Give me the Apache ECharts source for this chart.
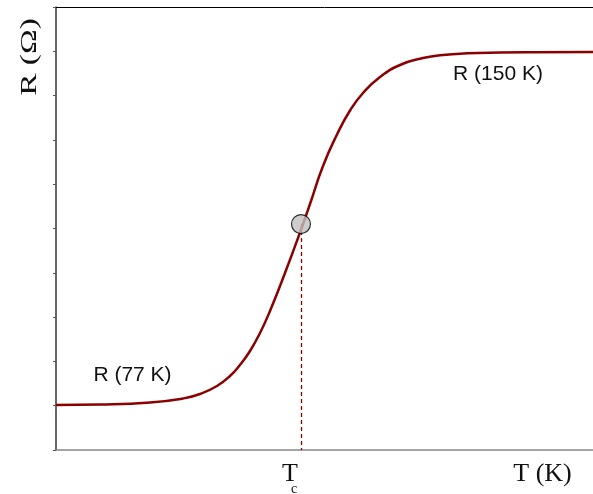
<!DOCTYPE html>
<html>
<head>
<meta charset="utf-8">
<script src="https://cdn.jsdelivr.net/npm/echarts@6/dist/echarts.min.js"></script>
<style>html,body{margin:0;padding:0;background:#fff}#c{width:593px;height:494px}</style>
</head>
<body>
<div id="c"></div>
<script>
// Temperature (arbitrary scaled units, 0..100 across the axis)
var temperature = [0, 8.19, 17.5, 23.65, 26.82, 29.98, 32.40, 34.26, 36.13, 37.99, 39.85, 42.64, 45.81, 47.30, 49.72, 52.33, 54.75, 57.17, 60.34, 64.06, 68.34, 71.51, 76.54, 82.68, 88.83, 100];
// Resistance (arbitrary units, axis 0..10)
var resistance = [1.016, 1.027, 1.072, 1.163, 1.264, 1.445, 1.670, 1.919, 2.235, 2.641, 3.138, 3.995, 5.034, 5.553, 6.411, 7.122, 7.664, 8.059, 8.420, 8.691, 8.849, 8.910, 8.955, 8.973, 8.980, 8.984];
// Transition point (Tc)
var tcPoint = [45.62, 5.10];
var labels = {yName: 'R (Ω)', xName: 'T (K)', tc: 'T', tcSub: 'c', low: 'R (77 K)', high: 'R (150 K)'};

var curve = temperature.map(function (t, i) { return [t, resistance[i]]; });

var chart = echarts.init(document.getElementById('c'), null, {renderer: 'canvas'});
chart.setOption({
  animation: false,
  backgroundColor: '#ffffff',
  grid: {left: 56, right: 0, top: 7, bottom: 44},
  xAxis: [{
    type: 'value', min: 0, max: 100, position: 'bottom',
    axisLine: {show: true, lineStyle: {color: '#888888', width: 1.5}},
    axisTick: {show: false}, axisLabel: {show: false}, splitLine: {show: false}
  }, {
    type: 'value', min: 0, max: 100, position: 'top',
    axisLine: {show: true, onZero: false, lineStyle: {color: '#000000', width: 1}},
    axisTick: {show: false}, axisLabel: {show: false}, splitLine: {show: false}
  }],
  yAxis: {
    type: 'value', min: 0, max: 10, interval: 1,
    axisLine: {show: true, lineStyle: {color: '#333333', width: 1.5}},
    axisTick: {show: true, inside: false, length: 3, lineStyle: {color: '#555555', width: 1}},
    axisLabel: {show: false}, splitLine: {show: false}
  },
  series: [{
    type: 'line', data: curve, smooth: 0.5, showSymbol: false, z: 2,
    lineStyle: {color: '#8b0000', width: 2.5}
  }, {
    type: 'scatter', data: [tcPoint], symbolSize: 19, z: 5,
    itemStyle: {color: '#c0c0c0', borderColor: '#000000', borderWidth: 1.2},
    markLine: {
      silent: true, symbol: ['none', 'none'], label: {show: false}, z: 1,
      lineStyle: {color: '#8b0000', width: 1.3, type: [4, 3]},
      data: [[{coord: [tcPoint[0], tcPoint[1]]}, {coord: [tcPoint[0], 0]}]]
    }
  }],
  graphic: [
    {type: 'text', x: 30, y: 57, rotation: Math.PI / 2, scaleX: 1.45, style: {text: labels.yName, font: '23px "Liberation Serif"', fill: '#111', textAlign: 'center', textVerticalAlign: 'middle'}},
    {type: 'text', x: 542.5, y: 474, style: {text: labels.xName, font: '26px "Liberation Serif"', fill: '#111', textAlign: 'center', textVerticalAlign: 'middle'}},
    {type: 'text', x: 290, y: 474, style: {text: labels.tc, font: '26px "Liberation Serif"', fill: '#111', textAlign: 'center', textVerticalAlign: 'middle'}},
    {type: 'text', x: 294, y: 489, style: {text: labels.tcSub, font: '14px "Liberation Serif"', fill: '#111', textAlign: 'center', textVerticalAlign: 'middle'}},
    {type: 'text', x: 132.5, y: 375, style: {text: labels.low, font: '21px "Liberation Sans"', fill: '#111', textAlign: 'center', textVerticalAlign: 'middle'}},
    {type: 'text', x: 498, y: 74.5, style: {text: labels.high, font: '21px "Liberation Sans"', fill: '#111', textAlign: 'center', textVerticalAlign: 'middle'}}
  ]
});
</script>
</body>
</html>
